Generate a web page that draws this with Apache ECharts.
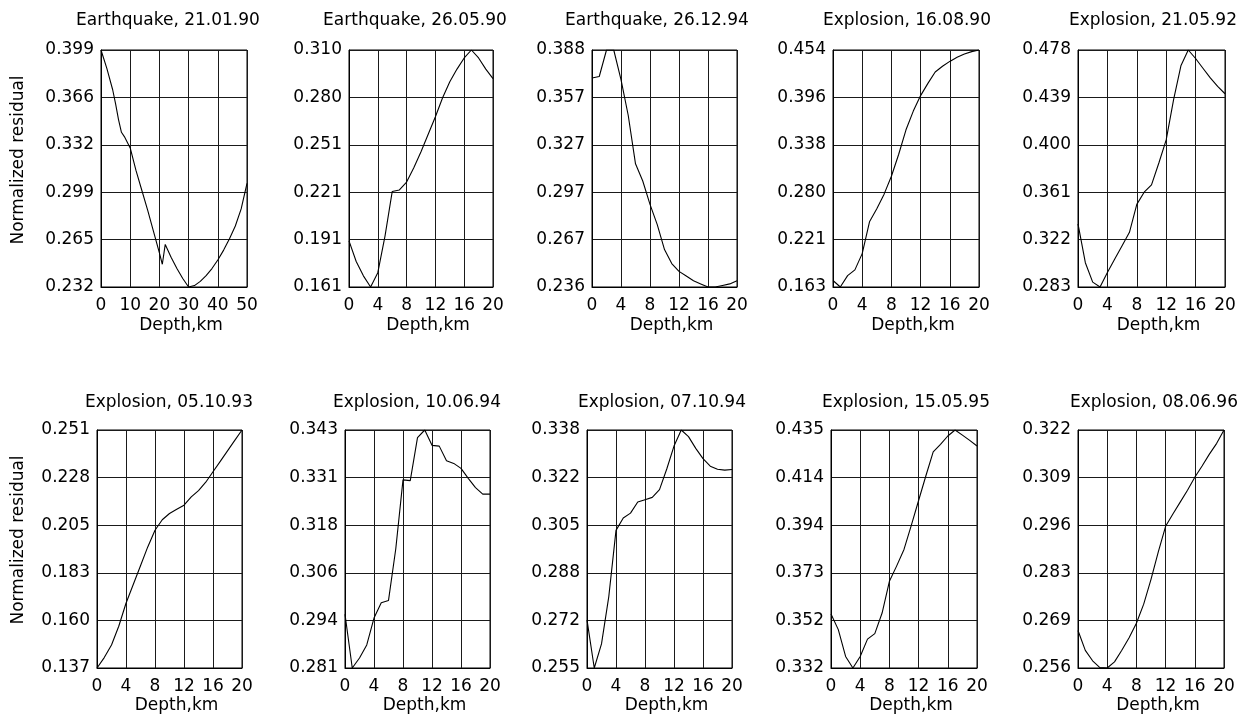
<!DOCTYPE html>
<html>
<head>
<meta charset="utf-8">
<script src="https://cdn.jsdelivr.net/npm/echarts@6/dist/echarts.min.js"></script>
<style>
  html, body { margin: 0; padding: 0; background: #fff; }
  #chart { width: 1241px; height: 720px; }
</style>
</head>
<body>
<div id="chart"></div>
<script>
// Event names shown above each panel
const titles = [
  'Earthquake, 21.01.90', 'Earthquake, 26.05.90', 'Earthquake, 26.12.94',
  'Explosion, 16.08.90', 'Explosion, 21.05.92',
  'Explosion, 05.10.93', 'Explosion, 10.06.94', 'Explosion, 07.10.94',
  'Explosion, 15.05.95', 'Explosion, 08.06.96'
];

// Depth grids (km)
const depthWide = [0, 2, 4, 5, 6, 7, 8, 10, 12, 14, 16, 18, 20, 21, 22, 24, 26, 28, 30, 32, 34, 36, 38, 40, 42, 44, 46, 48, 50];
const depthKm = [0, 1, 2, 3, 4, 5, 6, 7, 8, 9, 10, 11, 12, 13, 14, 15, 16, 17, 18, 19, 20];

// Normalized residual versus depth, one array per event
const resid01 = [0.399, 0.386, 0.371, 0.361, 0.350, 0.341, 0.338, 0.330, 0.314, 0.300, 0.286, 0.271, 0.256, 0.248, 0.262, 0.253, 0.245, 0.238, 0.232, 0.233, 0.236, 0.240, 0.245, 0.251, 0.258, 0.266, 0.275, 0.287, 0.305];
const resid02 = [0.190, 0.177, 0.168, 0.161, 0.170, 0.193, 0.221, 0.222, 0.227, 0.236, 0.246, 0.257, 0.268, 0.280, 0.290, 0.298, 0.305, 0.310, 0.305, 0.298, 0.292];
const resid03 = [0.370, 0.371, 0.388, 0.388, 0.369, 0.346, 0.315, 0.304, 0.289, 0.276, 0.260, 0.251, 0.246, 0.243, 0.240, 0.238, 0.236, 0.236, 0.237, 0.238, 0.240];
const resid04 = [0.171, 0.163, 0.177, 0.184, 0.204, 0.243, 0.259, 0.277, 0.299, 0.326, 0.356, 0.379, 0.398, 0.413, 0.427, 0.434, 0.440, 0.445, 0.449, 0.452, 0.454];
const resid05 = [0.335, 0.303, 0.287, 0.283, 0.295, 0.306, 0.317, 0.328, 0.351, 0.361, 0.367, 0.385, 0.404, 0.437, 0.465, 0.478, 0.471, 0.463, 0.455, 0.448, 0.442];
const resid06 = [0.137, 0.142, 0.148, 0.157, 0.168, 0.177, 0.186, 0.195, 0.203, 0.208, 0.211, 0.213, 0.215, 0.219, 0.222, 0.226, 0.231, 0.236, 0.241, 0.246, 0.251];
const resid07 = [0.2950, 0.2810, 0.2836, 0.2870, 0.2940, 0.2980, 0.2986, 0.3120, 0.3300, 0.3298, 0.3410, 0.3430, 0.3390, 0.3388, 0.3350, 0.3343, 0.3330, 0.3304, 0.3280, 0.3263, 0.3263];
const resid08 = [0.2718, 0.2550, 0.2634, 0.2798, 0.3030, 0.3073, 0.3090, 0.3129, 0.3137, 0.3145, 0.3172, 0.3244, 0.3324, 0.3380, 0.3357, 0.3316, 0.3280, 0.3254, 0.3243, 0.3240, 0.3242];
const resid09 = [0.3554, 0.3486, 0.3370, 0.3320, 0.3370, 0.3445, 0.3469, 0.3558, 0.3695, 0.3762, 0.3833, 0.3937, 0.4045, 0.4152, 0.4255, 0.4288, 0.4324, 0.4350, 0.4328, 0.4305, 0.4281];
const resid10 = [0.2664, 0.2609, 0.2580, 0.2561, 0.2560, 0.2577, 0.2609, 0.2644, 0.2684, 0.2737, 0.2806, 0.2882, 0.2953, 0.2987, 0.3020, 0.3053, 0.3089, 0.3120, 0.3153, 0.3183, 0.3220];

// Residual axis tick labels for each panel (first = axis minimum, last = maximum)
const yTicks01 = ['0.232', '0.265', '0.299', '0.332', '0.366', '0.399'];
const yTicks02 = ['0.161', '0.191', '0.221', '0.251', '0.280', '0.310'];
const yTicks03 = ['0.236', '0.267', '0.297', '0.327', '0.357', '0.388'];
const yTicks04 = ['0.163', '0.221', '0.280', '0.338', '0.396', '0.454'];
const yTicks05 = ['0.283', '0.322', '0.361', '0.400', '0.439', '0.478'];
const yTicks06 = ['0.137', '0.160', '0.183', '0.205', '0.228', '0.251'];
const yTicks07 = ['0.281', '0.294', '0.306', '0.318', '0.331', '0.343'];
const yTicks08 = ['0.255', '0.272', '0.288', '0.305', '0.322', '0.338'];
const yTicks09 = ['0.332', '0.352', '0.373', '0.394', '0.414', '0.435'];
const yTicks10 = ['0.256', '0.269', '0.283', '0.296', '0.309', '0.322'];

// Depth axis extent and step per panel
const xMax = [50, 20, 20, 20, 20, 20, 20, 20, 20, 20];
const xStep = [10, 4, 4, 4, 4, 4, 4, 4, 4, 4];

const depths = [depthWide, depthKm, depthKm, depthKm, depthKm, depthKm, depthKm, depthKm, depthKm, depthKm];
const resids = [resid01, resid02, resid03, resid04, resid05, resid06, resid07, resid08, resid09, resid10];
const yTicks = [yTicks01, yTicks02, yTicks03, yTicks04, yTicks05, yTicks06, yTicks07, yTicks08, yTicks09, yTicks10];

// Plot rectangles: two rows of five
const colLeft1 = [101, 349, 592, 833, 1078];
const colWidth1 = [146, 144, 145, 146, 147];
const colLeft2 = [97, 345, 587, 831, 1078];
const colWidth2 = [145, 145, 145, 146, 146];
const rowTop = [50, 430];
const rowHeight = [237, 238];
const titleX = [168, 415, 657, 907, 1153, 169, 417, 662, 906, 1154];
const titleY = [21, 403];
const depthLabelY = [326, 706];
const yNameY = [160, 540];

const FONT = '"DejaVu Sans", sans-serif';
const ink = '#000';
const gridInk = '#1a1a1a';

const grid = [], xAxis = [], yAxis = [], series = [], graphic = [];

for (let i = 0; i < 10; i++) {
  const row = i < 5 ? 0 : 1;
  const col = i % 5;
  const left = row === 0 ? colLeft1[col] : colLeft2[col];
  const width = row === 0 ? colWidth1[col] : colWidth2[col];
  grid.push({
    left: left, top: rowTop[row], width: width, height: rowHeight[row],
    show: true, borderColor: ink, borderWidth: 1, backgroundColor: 'transparent'
  });

  xAxis.push({
    type: 'value', gridIndex: i, min: 0, max: xMax[i], interval: xStep[i],
    axisLine: { show: true, lineStyle: { color: ink, width: 1 } },
    axisTick: { show: false },
    splitLine: { show: true, lineStyle: { color: gridInk, width: 1 } },
    axisLabel: { color: ink, fontFamily: FONT, fontSize: 17, margin: 10 }
  });

  const labels = yTicks[i];
  const yMin = parseFloat(labels[0]);
  const yMax = parseFloat(labels[labels.length - 1]);
  const steps = labels.length - 1;
  // evenly spaced ticks; ends pinned exactly to the axis extent
  const tickVals = labels.map((_, k) =>
    k === 0 ? yMin : (k === steps ? yMax : yMin + (yMax - yMin) * k / steps));
  yAxis.push({
    type: 'value', gridIndex: i, min: yMin, max: yMax,
    axisLine: { show: true, lineStyle: { color: ink, width: 1 } },
    axisTick: { show: false, customValues: tickVals },
    splitLine: { show: true, lineStyle: { color: gridInk, width: 1 } },
    axisLabel: {
      customValues: tickVals,
      showMinLabel: true, showMaxLabel: true,
      color: ink, fontFamily: FONT, fontSize: 17, margin: 7,
      formatter: function (v) {
        let best = 0, bd = Infinity;
        tickVals.forEach((t, k) => { const d = Math.abs(t - v); if (d < bd) { bd = d; best = k; } });
        return labels[best];
      }
    }
  });

  series.push({
    type: 'line', xAxisIndex: i, yAxisIndex: i,
    data: depths[i].map((d, k) => [d, resids[i][k]]),
    showSymbol: false, symbol: 'none', smooth: false, silent: true,
    lineStyle: { color: ink, width: 1.1 }
  });

  graphic.push({
    type: 'text', x: titleX[i], y: titleY[row], silent: true,
    style: { text: titles[i], font: '17px ' + FONT, fill: ink, textAlign: 'center', textVerticalAlign: 'middle', align: 'center', verticalAlign: 'middle' }
  });
  graphic.push({
    type: 'text', x: left + width / 2 + 7, y: depthLabelY[row], silent: true,
    style: { text: 'Depth,km', font: '17px ' + FONT, fill: ink, textAlign: 'center', textVerticalAlign: 'middle', align: 'center', verticalAlign: 'middle' }
  });
}

// Shared residual axis name, one per row
for (let r = 0; r < 2; r++) {
  graphic.push({
    type: 'text', x: 19, y: yNameY[r], rotation: Math.PI / 2, silent: true,
    style: { text: 'Normalized residual', font: '17px ' + FONT, fill: ink, textAlign: 'center', textVerticalAlign: 'middle', align: 'center', verticalAlign: 'middle' }
  });
}

const chart = echarts.init(document.getElementById('chart'), null, { renderer: 'canvas' });
chart.setOption({
  animation: false,
  backgroundColor: '#fff',
  grid: grid, xAxis: xAxis, yAxis: yAxis, series: series, graphic: graphic
});
</script>
</body>
</html>
